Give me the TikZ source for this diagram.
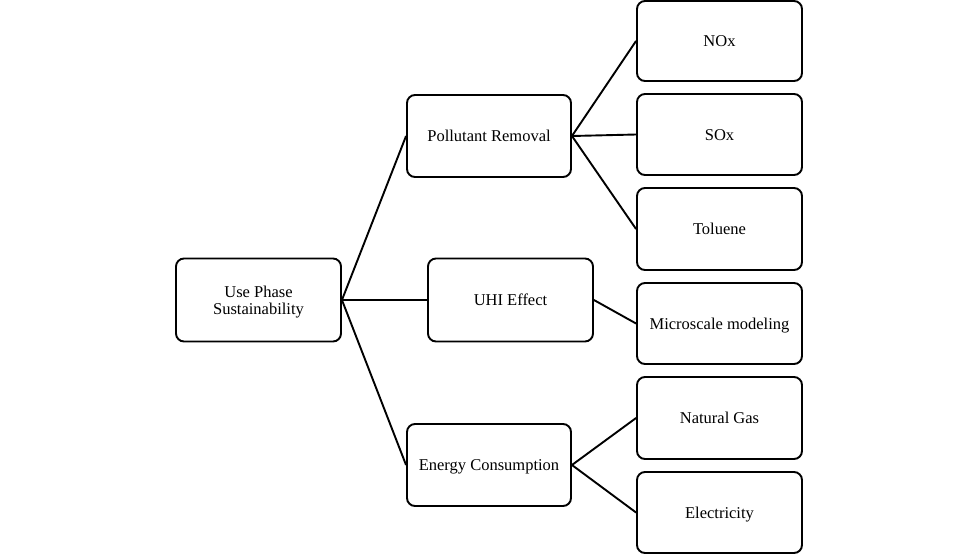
\documentclass[tikz,border=0pt]{standalone}
\usepackage{fontspec}
\setmainfont{Liberation Serif}
\begin{document}
\begin{tikzpicture}[x=1pt,y=-1pt,
  box/.style={draw=black, line width=1.9pt, rounded corners=8pt, minimum width=165pt, minimum height=82pt, inner sep=0pt, align=center, text height=11.5pt, text depth=0pt, font=\fontsize{16.5}{17}\selectfont},
  conn/.style={draw=black, line width=1.9pt}]
\useasboundingbox (0,0) rectangle (978,555);
\node[box, text height=28pt, minimum height=83pt] (root) at (258.5,300) {Use Phase\\Sustainability};
\node[box, minimum width=164pt] (pr) at (489,136) {Pollutant Removal};
\node[box, minimum height=83pt] (uhi) at (510.5,300) {UHI Effect};
\node[box, minimum width=164pt] (ec) at (489,465) {Energy Consumption};
\node[box, minimum height=80pt] (nox) at (719.5,41) {NOx};
\node[box, minimum height=81pt] (sox) at (719.5,134.5) {SOx};
\node[box] (tol) at (719.5,229) {Toluene};
\node[box, minimum height=81pt] (mic) at (719.5,323.5) {Microscale modeling};
\node[box] (ng) at (719.5,418) {Natural Gas};
\node[box, minimum height=81pt] (el) at (719.5,512.5) {Electricity};
\draw[conn] (root.east) -- (pr.west);
\draw[conn] (root.east) -- (uhi.west);
\draw[conn] (root.east) -- (ec.west);
\draw[conn] (pr.east) -- (nox.west);
\draw[conn] (pr.east) -- (sox.west);
\draw[conn] (pr.east) -- (tol.west);
\draw[conn] (uhi.east) -- (mic.west);
\draw[conn] (ec.east) -- (ng.west);
\draw[conn] (ec.east) -- (el.west);
\end{tikzpicture}
\end{document}
